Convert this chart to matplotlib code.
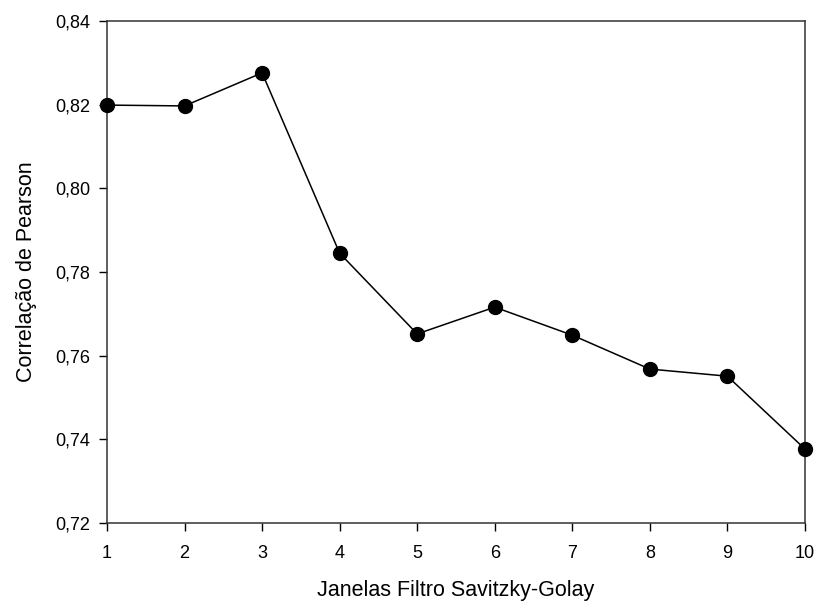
import matplotlib
matplotlib.use("Agg")
import matplotlib.pyplot as plt
from matplotlib.ticker import FuncFormatter

plt.rcParams['font.family'] = ['Liberation Sans', 'DejaVu Sans']

janelas = [1, 2, 3, 4, 5, 6, 7, 8, 9, 10]
correlacao = [0.8199, 0.8197, 0.8276, 0.7845, 0.7652, 0.7716, 0.7649, 0.7568, 0.7551, 0.7377]
yticks = [0.72, 0.74, 0.76, 0.78, 0.80, 0.82, 0.84]

fig = plt.figure(figsize=(8.18, 6.05), dpi=100)
ax = fig.add_axes([0.1308, 0.1355, 0.984 - 0.1308, 0.9653 - 0.1355])
ax.plot(janelas, correlacao, color='black', lw=1.1, marker='o', ms=10,
        markerfacecolor='black', markeredgecolor='black', clip_on=False, zorder=3)
ax.set_xlim(1, 10)
ax.set_ylim(0.72, 0.84)
ax.set_xticks(janelas)
ax.set_yticks(yticks)
ax.yaxis.set_major_formatter(FuncFormatter(lambda v, p: f"{v:.2f}".replace('.', ',')))
ax.tick_params(direction='out', length=6, width=1, labelsize=13, colors='black')
ax.tick_params(axis='x', pad=10)
ax.tick_params(axis='y', pad=6)
for s in ax.spines.values():
    s.set_linewidth(1.1)
    s.set_color('#333333')
ax.set_xlabel('Janelas Filtro Savitzky-Golay', fontsize=15.5, labelpad=13)
ax.set_ylabel('Correlação de Pearson', fontsize=15.5, labelpad=13)
fig.savefig('out.png', dpi=100)
